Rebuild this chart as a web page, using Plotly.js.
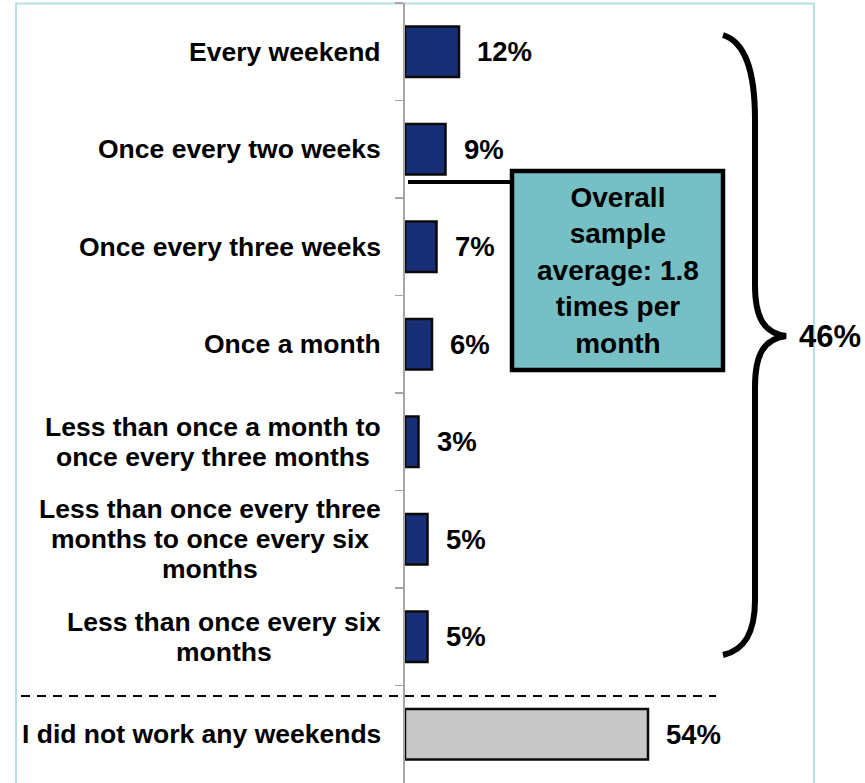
<!DOCTYPE html>
<html>
<head>
<meta charset="utf-8">
<script src="https://cdn.plot.ly/plotly-3.0.1.min.js"></script>
<style>
  html, body { margin: 0; padding: 0; background: #ffffff; }
  #chart { width: 865px; height: 783px; }
</style>
</head>
<body>
<div id="chart"></div>
<script>
// ---- data ----
const categories = [
  "Every weekend",
  "Once every two weeks",
  "Once every three weeks",
  "Once a month",
  "Less than once a month to<br>once every three months",
  "Less than once every three<br>months to once every six<br>months",
  "Less than once every six<br>months",
  "I did not work any weekends"
];
const percentValues = [12, 9, 7, 6, 3, 5, 5, 54];
const percentLabels = ["12%", "9%", "7%", "6%", "3%", "5%", "5%", "54%"];
const braceLabel = "46%";
const calloutText = "Overall<br>sample<br>average: 1.8<br>times per<br>month";

// ---- layout helpers (pixel -> paper) ----
const L = 405, R = 814, T = 3, B = 783;
const W = R - L, H = B - T;
const px = x => (x - L) / W;
const py = y => (B - y) / H;

const FONT = "Liberation Sans, Arial, Helvetica, sans-serif";
const LABEL_SIZE = 26.5;
const navy = "#182f78";
const gray = "#c8c8c8";
const barColors = categories.map((c, i) => i === categories.length - 1 ? gray : navy);

const canvas = document.createElement("canvas");
const ctx = canvas.getContext("2d");
ctx.font = "bold " + LABEL_SIZE + "px 'Liberation Sans', Arial, sans-serif";
const textW = s => ctx.measureText(s).width;

const traces = [{
  type: "bar",
  orientation: "h",
  y: categories,
  x: percentValues,
  width: 0.52,
  marker: { color: barColors, line: { color: "#0a0a0a", width: 2.5 } },
  hoverinfo: "none"
}];

const annotations = [];
// value labels
percentValues.forEach((v, i) => {
  annotations.push({
    x: v, y: categories[i], xref: "x", yref: "y",
    text: "<b>" + percentLabels[i] + "</b>",
    showarrow: false, xanchor: "left", yanchor: "middle", xshift: 16,
    font: { family: FONT, size: 27.5, color: "#000" }
  });
});
// category labels, line by line, centred within a right-aligned block
const lineGap = 30;
categories.forEach(c => {
  const lines = c.split("<br>");
  const maxW = Math.max(...lines.map(textW));
  lines.forEach((ln, j) => {
    annotations.push({
      x: 0, y: c, xref: "paper", yref: "y",
      text: "<b>" + ln + "</b>",
      showarrow: false, xanchor: "center", yanchor: "middle",
      xshift: -24 - maxW / 2, yshift: ((lines.length - 1) / 2 - j) * lineGap,
      font: { family: FONT, size: LABEL_SIZE, color: "#000" }
    });
  });
});
// callout text
annotations.push({
  x: px(617.5), y: py(270), xref: "paper", yref: "paper",
  text: "<b>" + calloutText + "</b>",
  showarrow: false, xanchor: "center", yanchor: "middle", align: "center",
  font: { family: FONT, size: 28, color: "#000" }
});
// brace label
annotations.push({
  x: px(797), y: py(336), xref: "paper", yref: "paper",
  text: "<b>" + braceLabel + "</b>",
  showarrow: false, xanchor: "left", yanchor: "middle",
  font: { family: FONT, size: 31, color: "#000" }
});

function pathPx(cmds) {
  return cmds.map(c => {
    const letter = c[0];
    const pts = [];
    for (let k = 1; k < c.length; k += 2) pts.push(px(c[k]).toFixed(5) + "," + py(c[k + 1]).toFixed(5));
    return letter + pts.join(" ");
  }).join(" ");
}

const bracePath = pathPx([
  ["M", 723, 35],
  ["C", 745, 42, 755, 70, 755, 120],
  ["L", 755, 285],
  ["C", 755, 318, 764, 333, 786, 336],
  ["C", 764, 339, 755, 354, 755, 387],
  ["L", 755, 600],
  ["C", 755, 632, 745, 650, 723, 655]
]);

const shapes = [
  { type: "rect", xref: "paper", yref: "paper", x0: px(16), x1: px(814), y0: py(800), y1: py(3.5),
    line: { color: "#b5dfe5", width: 2 }, fillcolor: "rgba(0,0,0,0)", layer: "below" },
  { type: "line", xref: "paper", yref: "paper", x0: px(21), x1: px(716), y0: py(696), y1: py(696),
    line: { color: "#000", width: 2, dash: "9px,7px" } },
  { type: "line", xref: "paper", yref: "paper", x0: px(408), x1: px(513), y0: py(182), y1: py(182),
    line: { color: "#000", width: 4 } },
  { type: "rect", xref: "paper", yref: "paper", x0: px(512), x1: px(723), y0: py(370), y1: py(171),
    line: { color: "#000", width: 4.5 }, fillcolor: "#75bfc5" },
  { type: "path", xref: "paper", yref: "paper", path: bracePath,
    line: { color: "#000", width: 6 }, fillcolor: "rgba(0,0,0,0)" }
];

const layout = {
  width: 865, height: 783,
  margin: { l: L, r: 865 - R, t: T, b: 783 - B, pad: 0 },
  paper_bgcolor: "#ffffff", plot_bgcolor: "#ffffff",
  showlegend: false,
  xaxis: { range: [0, W / 4.5], showgrid: false, zeroline: false, showticklabels: false,
           showline: false, ticks: "", fixedrange: true },
  yaxis: { type: "category", range: [categories.length - 0.5, -0.5], showgrid: false, zeroline: false,
           showticklabels: false, showline: true, linecolor: "#a6a6a6", linewidth: 2,
           ticks: "outside", tickson: "boundaries", ticklen: 8, tickcolor: "#a6a6a6", tickwidth: 1.5,
           fixedrange: true },
  annotations: annotations,
  shapes: shapes
};

Plotly.newPlot("chart", traces, layout, { displayModeBar: false, staticPlot: true });
</script>
</body>
</html>
